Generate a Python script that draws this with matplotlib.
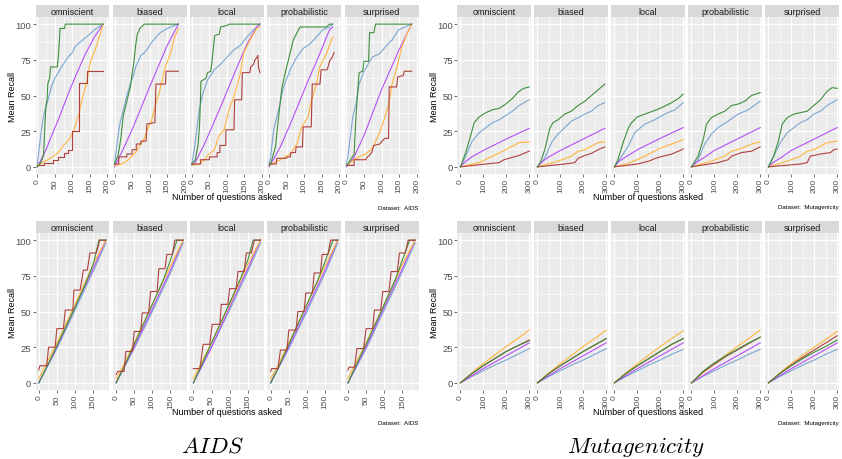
import numpy as np
import matplotlib.pyplot as plt
from matplotlib.ticker import MultipleLocator

plt.rcParams['font.family'] = ['Liberation Sans', 'DejaVu Sans']
plt.rcParams['mathtext.fontset'] = 'cm'

W, H = 842, 460

panels = ["omniscient", "biased", "local", "probabilistic", "surprised"]
colors = {"green": "#3e8e3e", "blue": "#7ba7d2", "purple": "#b84ef7",
          "orange": "#ffb53c", "red": "#b0403c"}

# ---- AIDS, top row (x, y) per panel
aids_top_green = [
    ([0, 10, 18, 22, 25, 28, 30, 35, 38, 57, 60, 63, 65, 78, 80, 188],
     [0, 3, 8, 30, 43, 47, 58, 62, 70, 70, 77, 88, 97, 97, 100, 100]),
    ([0, 10, 18, 25, 35, 45, 50, 55, 60, 65, 72, 85, 182],
     [2, 8, 20, 36, 46, 56, 65, 73, 85, 93, 97, 100, 100]),
    ([0, 10, 18, 22, 24, 26, 40, 45, 54, 58, 62, 65, 78, 82, 100, 106, 194],
     [2, 5, 16, 30, 43, 60, 62, 66, 67, 75, 85, 92, 93, 98, 99, 100, 100]),
    ([0, 4, 18, 27, 36, 46, 55, 69, 88, 97, 163, 172, 181],
     [1, 2, 14, 35, 55, 66, 75, 89, 98, 98, 98, 100, 100]),
    ([0, 4, 22, 27, 36, 46, 50, 63, 66, 78, 83, 186],
     [1, 2, 9, 35, 66, 67, 74, 74, 94, 94, 100, 100]),
]
aids_top_blue = [
    ([0, 5, 13, 20, 32, 40, 50, 60, 69, 80, 88, 100, 107, 120, 135, 150, 163, 175, 188],
     [2, 12, 28, 38, 48, 56, 62, 66, 70, 74, 77, 80, 84, 87, 90, 93, 96, 98, 100]),
    ([0, 8, 15, 25, 35, 45, 55, 60, 75, 85, 95, 105, 115, 130, 150, 170, 182],
     [2, 18, 30, 40, 50, 58, 65, 70, 78, 80, 83, 87, 90, 94, 97, 99, 100]),
    ([0, 7, 21, 31, 45, 64, 82, 101, 120, 138, 157, 176, 194],
     [2, 12, 40, 51, 61, 68, 72, 77, 82, 85, 91, 96, 100]),
    ([0, 4, 13, 27, 41, 60, 79, 97, 116, 135, 153, 172, 181],
     [2, 7, 26, 40, 56, 68, 77, 83, 86, 91, 96, 98, 100]),
    ([0, 4, 18, 27, 36, 50, 74, 93, 111, 130, 149, 167, 186],
     [2, 7, 35, 44, 58, 67, 77, 79, 84, 89, 96, 98, 100]),
]
aids_top_purple = [
    ([0, 13, 25, 41, 60, 88, 110, 135, 163, 188], [0, 6, 12, 22, 33, 51, 64, 78, 91, 100]),
    ([0, 20, 50, 100, 150, 182], [0, 10, 26, 56, 85, 100]),
    ([0, 7, 36, 82, 129, 157, 185, 194], [1, 2, 16, 42, 70, 86, 98, 100]),
    ([0, 32, 69, 107, 144, 172, 181], [0, 14, 35, 58, 79, 96, 98]),
    ([0, 20, 50, 100, 150, 186], [0, 6, 22, 54, 82, 100]),
]
aids_top_orange = [
    ([0, 15, 30, 50, 60, 75, 90, 100, 110, 120, 128, 138, 145, 152, 165, 178, 188],
     [1, 3, 5, 8, 10, 15, 19, 23, 30, 38, 48, 56, 65, 74, 82, 92, 100]),
    ([0, 20, 40, 60, 75, 85, 95, 105, 115, 125, 135, 145, 160, 170, 182],
     [1, 2, 5, 10, 16, 20, 27, 32, 42, 50, 60, 70, 80, 90, 97]),
    ([0, 20, 36, 45, 64, 78, 92, 106, 120, 138, 148, 166, 185, 194],
     [1, 2, 5, 8, 12, 22, 26, 40, 49, 65, 80, 89, 97, 98]),
    ([0, 32, 60, 79, 93, 111, 121, 135, 144, 163, 181],
     [1, 5, 9, 16, 28, 35, 47, 58, 70, 79, 91]),
    ([0, 27, 55, 74, 93, 107, 121, 130, 144, 158, 172, 186],
     [1, 6, 9, 13, 23, 33, 44, 58, 70, 84, 93, 100]),
]
aids_top_red = [
    ([0, 18, 18, 45, 45, 60, 60, 75, 75, 88, 88, 100, 100, 120, 120, 143, 143, 188],
     [1, 1, 3, 3, 5, 5, 7, 7, 10, 10, 12, 12, 25, 25, 59, 59, 67, 67]),
    ([0, 12, 12, 35, 35, 50, 50, 62, 62, 75, 75, 90, 92, 115, 118, 145, 147, 182],
     [2, 2, 7, 7, 9, 9, 12, 12, 16, 16, 18, 18, 30, 31, 58, 58, 67, 67]),
    ([0, 25, 25, 50, 50, 72, 72, 80, 80, 97, 97, 120, 122, 142, 144, 165, 168, 176, 180, 186, 188, 190, 194],
     [2, 2, 5, 5, 7, 7, 10, 10, 15, 15, 26, 26, 47, 47, 66, 66, 70, 72, 75, 77, 78, 70, 66]),
    ([0, 20, 22, 50, 52, 60, 62, 75, 77, 95, 97, 120, 123, 145, 148, 165, 168, 172, 180, 185],
     [2, 2, 6, 6, 7, 7, 10, 10, 14, 14, 28, 28, 58, 58, 68, 68, 70, 74, 77, 80]),
    ([0, 22, 22, 55, 60, 65, 72, 78, 95, 105, 110, 120, 122, 143, 146, 162, 165, 186],
     [1, 1, 5, 5, 7, 8, 10, 15, 16, 19, 20, 20, 56, 56, 63, 64, 67, 67]),
]

# ---- Mutagenicity, top row
mut_top_green = [
    ([0, 23, 45, 60, 82, 111, 140, 169, 198, 227, 256, 277, 300],
     [0, 10, 22, 31, 35, 38, 40, 41, 44, 48, 53, 55, 56]),
    ([0, 15, 32, 54, 68, 90, 119, 148, 178, 207, 236, 265, 294],
     [0, 4, 12, 27, 31, 33, 37, 39, 43, 46, 50, 54, 58]),
    ([0, 15, 40, 60, 75, 100, 150, 200, 250, 280, 300],
     [0, 5, 18, 27, 31, 35, 38, 41, 45, 48, 51]),
    ([0, 29, 51, 66, 87, 116, 146, 175, 204, 233, 262, 300],
     [0, 7.5, 19, 30, 34.5, 37, 39, 43, 44, 46, 50, 52]),
    ([0, 23, 45, 60, 82, 111, 140, 169, 198, 227, 256, 278, 300],
     [0, 7.5, 19, 30, 34.5, 37, 38, 39, 43, 47, 53, 55.5, 55]),
]
mut_top_blue = [
    ([0, 23, 51, 82, 111, 140, 169, 198, 227, 256, 300],
     [0, 7.5, 18, 24, 27.5, 31, 33, 36, 39, 43, 47]),
    ([0, 32, 61, 90, 119, 148, 178, 207, 236, 265, 294],
     [0, 6, 17, 23, 27.5, 32, 34.5, 37, 39, 43, 45]),
    ([0, 30, 60, 89, 133, 176, 220, 264, 300],
     [0, 7, 14.5, 24, 30, 33, 37, 40, 45]),
    ([0, 29, 58, 87, 116, 160, 204, 248, 300],
     [0, 5, 16, 23, 27.5, 32, 37, 40, 46]),
    ([0, 23, 52, 82, 111, 140, 169, 198, 227, 256, 300],
     [0, 7.5, 17, 24, 27.5, 31, 33, 37, 39, 43, 47]),
]
mut_top_purple = [
    ([0, 20, 50, 100, 200, 300], [0, 3.5, 7, 11.5, 19.5, 27]),
    ([0, 20, 50, 100, 200, 294], [0, 3.5, 7, 11.5, 19.5, 27]),
    ([0, 20, 60, 100, 200, 300], [0, 4, 8, 12, 20, 27.5]),
    ([0, 20, 60, 100, 200, 300], [0, 3, 7, 11.5, 19.5, 27.5]),
    ([0, 20, 60, 100, 200, 300], [0, 3, 7, 11.5, 19.5, 27.5]),
]
mut_top_orange = [
    ([0, 82, 140, 198, 256, 300], [0, 3, 7.5, 12, 17, 17.5]),
    ([0, 90, 148, 178, 207, 236, 265, 294], [0, 4, 7.5, 11, 12, 14.5, 17, 17.5]),
    ([0, 50, 100, 150, 200, 250, 300], [0, 2, 5, 9, 13, 16, 19]),
    ([0, 87, 146, 175, 219, 262, 300], [0, 4, 7.5, 11, 13, 16, 17.5]),
    ([0, 82, 140, 169, 198, 227, 256, 300], [0, 4, 7.5, 11, 12, 14.5, 17, 18]),
]
mut_top_red = [
    ([0, 111, 169, 190, 212, 256, 300], [0, 2, 3, 5, 6, 8, 11]),
    ([0, 119, 163, 178, 207, 236, 265, 294], [0, 2, 3, 6, 8, 9.5, 12, 14]),
    ([0, 100, 150, 180, 200, 250, 280, 300], [0, 2, 4, 6, 7, 9, 11, 12.5]),
    ([0, 116, 160, 175, 219, 262, 300], [0, 3, 5, 7.5, 10, 11, 14]),
    ([0, 140, 169, 183, 227, 271, 285, 300], [0, 2, 3, 7.5, 9, 10, 12, 12.5]),
]

# ---- AIDS, bottom row
aids_bot_green = [
    ([0, 20, 50, 100, 130, 150, 166, 185], [0, 10, 26, 53, 70, 83, 100, 100]),
    ([0, 20, 50, 100, 130, 150, 168, 185], [0, 10, 27, 55, 72, 86, 100, 100]),
    ([0, 20, 50, 100, 130, 150, 165, 185], [0, 11, 28, 56, 73, 86, 100, 100]),
    ([0, 20, 50, 100, 130, 150, 172, 185], [0, 10, 27, 55, 72, 85, 100, 100]),
    ([0, 20, 50, 100, 130, 150, 170, 185], [0, 11, 27, 55, 72, 86, 100, 100]),
]
aids_bot_blue = [
    ([0, 50, 100, 150, 185], [0, 24, 51, 78, 98]),
    ([0, 50, 100, 150, 185], [0, 24, 50, 77, 98]),
    ([0, 50, 100, 150, 185], [0, 25, 51, 78, 98]),
    ([0, 50, 100, 150, 185], [0, 24, 50, 77, 98]),
    ([0, 50, 100, 150, 185], [0, 24, 51, 78, 98]),
]
aids_bot_purple = [
    ([0, 50, 100, 150, 185], [0, 25, 53, 80, 100]),
    ([0, 50, 100, 150, 185], [0, 25, 52, 79, 100]),
    ([0, 50, 100, 150, 185], [0, 25, 53, 80, 100]),
    ([0, 50, 100, 150, 185], [0, 25, 52, 79, 100]),
    ([0, 50, 100, 150, 185], [0, 25, 53, 80, 100]),
]
aids_bot_orange = [
    ([0, 20, 50, 100, 150, 185], [3, 13, 28, 55, 83, 100]),
    ([0, 20, 50, 100, 150, 185], [3, 12, 28, 55, 82, 100]),
    ([0, 20, 50, 100, 150, 185], [3, 13, 28, 55, 83, 100]),
    ([0, 20, 50, 100, 150, 185], [3, 12, 28, 55, 82, 100]),
    ([0, 20, 50, 100, 150, 185], [3, 13, 28, 55, 83, 100]),
]
aids_bot_red = [
    ([0, 3, 22, 27, 45, 50, 68, 73, 94, 97, 114, 123, 134, 141, 159, 168, 185],
     [9, 12, 12, 25, 25, 38, 38, 51, 51, 65, 65, 79, 79, 91, 91, 100, 100]),
    ([0, 5, 22, 27, 45, 50, 68, 72, 90, 95, 113, 118, 135, 140, 155, 162, 185],
     [6, 8, 8, 22, 22, 36, 36, 49, 49, 64, 64, 80, 80, 90, 90, 100, 100]),
    ([0, 2, 18, 27, 45, 52, 73, 77, 95, 100, 118, 123, 140, 146, 160, 168, 185],
     [10, 10, 10, 27, 27, 41, 41, 55, 55, 66, 66, 78, 78, 91, 91, 100, 100]),
    ([0, 3, 20, 27, 45, 50, 70, 75, 92, 97, 115, 120, 137, 142, 158, 165, 185],
     [8, 10, 10, 23, 23, 37, 37, 50, 50, 63, 63, 77, 77, 90, 90, 100, 100]),
    ([0, 3, 18, 25, 43, 50, 68, 73, 90, 96, 113, 119, 136, 142, 158, 166, 185],
     [9, 11, 11, 24, 24, 38, 38, 51, 51, 64, 64, 78, 78, 91, 91, 100, 100]),
]

# ---- Mutagenicity, bottom row
mut_x = [0, 50, 100, 150, 200, 250, 300]
mut_bot_orange = [
    [0, 7, 13.5, 19.5, 25.5, 31, 37],
    [0, 7, 13.5, 19.5, 25.5, 31, 37],
    [0, 7, 13.5, 19.5, 25.5, 31, 36.5],
    [0, 7, 13.5, 19.5, 25.5, 31, 37],
    [0, 7, 13.5, 19.5, 25, 30.5, 36],
]
mut_bot_red = [
    [0, 6.5, 12, 17, 22, 26, 30],
    [0, 6.5, 12, 17, 22, 26.5, 31],
    [0, 6.5, 12, 17, 22, 27, 31],
    [0, 7.5, 13, 18.5, 23, 27.5, 32],
    [0, 6.5, 12.5, 18, 23, 28, 33],
]
mut_bot_green = [
    [0, 6.5, 12, 17, 22, 26, 29.5],
    [0, 6.5, 12, 17, 22, 26.5, 31],
    [0, 6.5, 12, 17, 22, 27, 31],
    [0, 8, 14, 19, 23.5, 28, 32],
    [0, 6.5, 12, 17, 21.5, 25.5, 30],
]
mut_bot_purple = [
    [0, 5, 10, 14.5, 19, 23.5, 28],
    [0, 5, 10, 14.5, 19, 23.5, 28],
    [0, 5, 10, 14.5, 19, 23.5, 28],
    [0, 5, 10, 14.5, 19, 23.5, 28],
    [0, 5, 10, 14.5, 19, 23.5, 28],
]
mut_bot_blue = [
    [0, 4.5, 8.5, 12.5, 16, 20, 24],
    [0, 4.5, 8.5, 12.5, 16, 20, 24],
    [0, 4.5, 8.5, 12.5, 16, 20, 23.5],
    [0, 4.5, 8.5, 12.5, 16, 20, 23.5],
    [0, 4.5, 8.5, 12.5, 16, 20, 23.5],
]


def series(block, i):
    if block == "aids_top":
        return [("blue", aids_top_blue[i]), ("purple", aids_top_purple[i]),
                ("orange", aids_top_orange[i]), ("red", aids_top_red[i]),
                ("green", aids_top_green[i])]
    if block == "mut_top":
        return [("blue", mut_top_blue[i]), ("purple", mut_top_purple[i]),
                ("orange", mut_top_orange[i]), ("red", mut_top_red[i]),
                ("green", mut_top_green[i])]
    if block == "aids_bot":
        return [("blue", aids_bot_blue[i]), ("purple", aids_bot_purple[i]),
                ("orange", aids_bot_orange[i]), ("green", aids_bot_green[i]),
                ("red", aids_bot_red[i])]
    return [("blue", (mut_x, mut_bot_blue[i])), ("purple", (mut_x, mut_bot_purple[i])),
            ("orange", (mut_x, mut_bot_orange[i])), ("red", (mut_x, mut_bot_red[i])),
            ("green", (mut_x, mut_bot_green[i]))]


fig = plt.figure(figsize=(W / 100, H / 100), dpi=100)


def px_axes(left, top, width, height):
    return fig.add_axes([left / W, 1 - (top + height) / H, width / W, height / H])


left_lefts = [35.5 + i * 77.3 for i in range(5)]
right_lefts = [457 + i * 77 for i in range(5)]

blocks = [
    ("aids_top", left_lefts, 18, (-5, 206), 50, "AIDS"),
    ("mut_top", right_lefts, 18, (-15, 308), 100, "Mutagenicity"),
    ("aids_bot", left_lefts, 234, (-9, 195), 50, "AIDS"),
    ("mut_bot", right_lefts, 234, (-15, 308), 100, "Mutagenicity"),
]

pw, ph, sh = 74, 157, 12
for name, lefts, top, xlim, step, dname in blocks:
    for i, lab in enumerate(panels):
        ax = px_axes(lefts[i], top, pw, ph)
        ax.set_facecolor("#EBEBEB")
        for s in ax.spines.values():
            s.set_visible(False)
        ax.set_xlim(*xlim)
        ax.set_ylim(-5, 105)
        ax.xaxis.set_major_locator(MultipleLocator(step))
        ax.xaxis.set_minor_locator(MultipleLocator(step / 2))
        ax.yaxis.set_major_locator(MultipleLocator(25))
        ax.yaxis.set_minor_locator(MultipleLocator(12.5))
        ax.grid(which="major", color="white", lw=0.9)
        ax.grid(which="minor", color="white", lw=0.45)
        ax.set_axisbelow(True)
        ax.tick_params(which="minor", length=0)
        ax.tick_params(which="major", length=2, width=0.5, color="#333333",
                       labelcolor="#4D4D4D", pad=1)
        ax.tick_params(axis="x", labelrotation=90, labelsize=6)
        ax.tick_params(axis="y", labelsize=6.8)
        if i > 0:
            ax.tick_params(axis="y", length=0, labelleft=False)
        for c, (xs, ys) in series(name, i):
            ax.plot(xs, ys, color=colors[c], lw=0.8)

        sax = px_axes(lefts[i], top - sh, pw, sh)
        sax.set_facecolor("#D9D9D9")
        sax.set_xticks([])
        sax.set_yticks([])
        for s in sax.spines.values():
            s.set_visible(False)
        sax.text(0.5, 0.45, lab, ha="center", va="center", fontsize=6.5,
                 color="#1A1A1A", transform=sax.transAxes)

    x0 = lefts[0]
    x1 = lefts[-1] + pw
    fig.text((x0 + x1) / 2 / W, 1 - (top + ph + 22) / H, "Number of questions asked",
             ha="center", va="center", fontsize=6.5)
    fig.text((x0 - 23) / W, 1 - (top + ph / 2) / H, "Mean Recall", rotation=90,
             ha="center", va="center", fontsize=6.5)
    fig.text(min(x1, 840) / W, 1 - (top + ph + 33) / H, "Dataset:  " + dname,
             ha="right", va="center", fontsize=4.4)

fig.text(212 / W, 1 - 453 / H, r"$AIDS$", ha="center", va="baseline", fontsize=16.5)
fig.text(636 / W, 1 - 453 / H, r"$Mutagenicity$", ha="center", va="baseline", fontsize=16.5)

fig.savefig("out.png", dpi=100, facecolor="white")
